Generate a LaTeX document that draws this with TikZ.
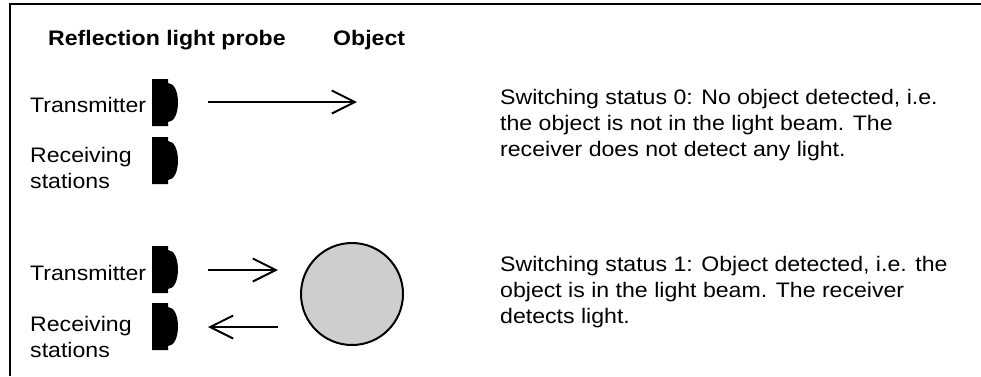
\documentclass[tikz,border=0pt]{standalone}
\usepackage{fontspec}
\setmainfont{Liberation Sans}[FakeStretch=1.1]
\usetikzlibrary{arrows.meta}
\definecolor{objgray}{RGB}{206,206,206}
\tikzset{
  lbl/.style={anchor=base west, inner sep=0pt, font=\fontsize{21}{26}\selectfont},
  head/.style={anchor=base west, inner sep=0pt, font=\fontsize{21}{26}\selectfont\bfseries},
  beam/.style={line width=2pt, -{Straight Barb[length=23pt,width=23pt,line width=2pt]}},
  frameline/.style={line width=1.8pt},
  sensor/.pic={
    \fill (0,0) -- (16,0) -- (16,4) .. controls (29.3,4) and (29.3,43) .. (16,43)
      -- (16,47) -- (0,47) -- cycle;
  }
}
\begin{document}
\begin{tikzpicture}[x=1pt,y=-1pt]
\useasboundingbox (0,0) rectangle (981,376);
% frame
\draw[frameline] (10,376) -- (10,4) -- (981,4);
% headings
\node[head] (hprobe) at (48,45) {Reflection light probe};
\node[head] (hobj) at (333,45) {Object};
% sensors
\pic at (152,79) {sensor};
\pic at (152,137) {sensor};
\pic at (152,246) {sensor};
\pic at (152,303) {sensor};
% left labels
\node[lbl] (tx1) at (30,112) {Transmitter};
\node[lbl] (rx1a) at (30,162) {Receiving};
\node[lbl] (rx1b) at (30,188) {stations};
\node[lbl] (tx2) at (30,280) {Transmitter};
\node[lbl] (rx2a) at (30,331) {Receiving};
\node[lbl] (rx2b) at (30,357) {stations};
% object
\node[draw, circle, line width=2pt, fill=objgray, minimum size=102pt, inner sep=0pt] (obj) at (352,294) {};
% beams
\coordinate (b1s) at (208,102);
\coordinate (b1e) at (357,102);
\coordinate (b2s) at (208,270);
\coordinate (b2e) at (278,270);
\coordinate (b3s) at (278,327);
\coordinate (b3e) at (208,327);
\draw[beam] (b1s) -- (b1e);
\draw[beam] (b2s) -- (b2e);
\draw[beam] (b3s) -- (b3e);
% descriptions
\node[lbl] (s0a) at (500,104) {Switching status 0: No object detected, i.e.};
\node[lbl] (s0b) at (500,130) {the object is not in the light beam. The};
\node[lbl] (s0c) at (500,156) {receiver does not detect any light.};
\node[lbl] (s1a) at (500,271) {Switching status 1: Object detected, i.e. the};
\node[lbl] (s1b) at (500,297) {object is in the light beam. The receiver};
\node[lbl] (s1c) at (500,323) {detects light.};
\end{tikzpicture}
\end{document}
